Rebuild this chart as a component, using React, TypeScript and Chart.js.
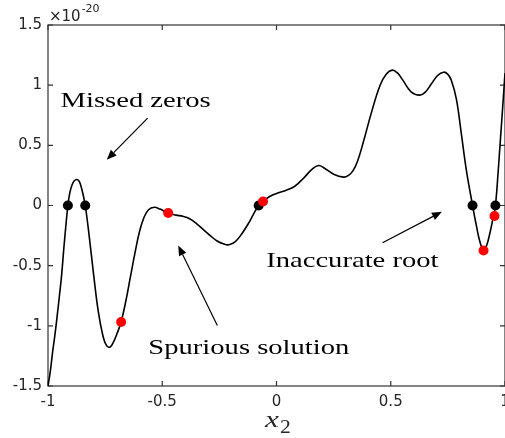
import React, { useEffect, useRef } from "react";
import { Chart, registerables } from "chart.js";

Chart.register(...registerables);

// ---- data (values in units of 1e-20) ----
const CURVE_X = [
  -1, -0.99, -0.98, -0.97, -0.96, -0.95, -0.94, -0.93, -0.913, -0.905, -0.895, -0.885, -0.874,
  -0.863, -0.85, -0.837, -0.82, -0.8, -0.78, -0.76, -0.745, -0.728, -0.71, -0.695, -0.68, -0.66,
  -0.64, -0.62, -0.6, -0.58, -0.56, -0.535, -0.51, -0.474, -0.44, -0.41, -0.38, -0.35, -0.32,
  -0.29, -0.26, -0.23, -0.208, -0.18, -0.15, -0.12, -0.1, -0.078, -0.059, -0.03, 0, 0.04, 0.08,
  0.12, 0.155, 0.184, 0.21, 0.25, 0.293, 0.315, 0.335, 0.355, 0.38, 0.416, 0.453, 0.48, 0.507,
  0.53, 0.55, 0.59, 0.627, 0.65, 0.678, 0.705, 0.731, 0.75, 0.765, 0.787, 0.808, 0.83, 0.858,
  0.875, 0.89, 0.906, 0.92, 0.935, 0.945, 0.958, 0.97, 0.98, 0.99, 1.0,
];
const CURVE_Y = [
  -1.5, -1.38, -1.22, -1.08, -0.92, -0.75, -0.57, -0.34, 0, 0.1, 0.17, 0.205, 0.216,
  0.2, 0.12, 0, -0.25, -0.58, -0.88, -1.08, -1.16, -1.176, -1.12, -1.05, -0.968, -0.8,
  -0.6, -0.4, -0.22, -0.1, -0.035, -0.015, -0.03, -0.063, -0.08, -0.09, -0.11, -0.15, -0.2,
  -0.25, -0.295, -0.32, -0.326, -0.3, -0.23, -0.14, -0.07, 0, 0.033, 0.075, 0.1, 0.125, 0.16,
  0.23, 0.3, 0.332, 0.31, 0.26, 0.236, 0.25, 0.29, 0.37, 0.527, 0.776, 0.997, 1.09, 1.125,
  1.1, 1.05, 0.942, 0.917, 0.94, 1.011, 1.08, 1.108, 1.09, 1.04, 0.886, 0.61, 0.305, 0,
  -0.17, -0.3, -0.37, -0.33, -0.22, -0.13, 0, 0.28, 0.55, 0.82, 1.1,
];
const TRUE_ROOTS_X = [-0.913, -0.837, -0.078, 0.858, 0.958];
const TRUE_ROOTS_Y = [0, 0, 0, 0, 0];
const COMPUTED_X = [-0.68, -0.474, -0.059, 0.906, 0.954];
const COMPUTED_Y = [-0.968, -0.063, 0.033, -0.374, -0.088];

const X_TICKS = [-1, -0.5, 0, 0.5, 1];
const Y_TICKS = [-1.5, -1, -0.5, 0, 0.5, 1, 1.5];

// annotations: text anchor and arrow (tail -> tip) in data coordinates
const NOTE_TEXT = ["Missed zeros", "Spurious solution", "Inaccurate root"];
const NOTE_TEXT_X = [-0.945, -0.561, -0.045];
const NOTE_TEXT_Y = [0.816, -1.232, -0.507];
const ARROW_TAIL_X = [-0.564, -0.259, 0.464];
const ARROW_TAIL_Y = [0.726, -0.997, -0.31];
const ARROW_TIP_X = [-0.743, -0.43, 0.724];
const ARROW_TIP_Y = [0.38, -0.332, -0.052];

const AXIS_COLOR = "#333333";
const TEXT_COLOR = "#262626";

const decorPlugin = {
  id: "decor",
  beforeDatasetsDraw(chart: any) {
    const { ctx, chartArea: a, scales } = chart;
    const xs = scales.x;
    const ys = scales.y;
    ctx.save();
    ctx.strokeStyle = AXIS_COLOR;
    ctx.lineWidth = 1.2;
    ctx.strokeRect(a.left, a.top, a.right - a.left, a.bottom - a.top);
    const tl = 5;
    ctx.beginPath();
    X_TICKS.forEach((v) => {
      const px = xs.getPixelForValue(v);
      ctx.moveTo(px, a.bottom);
      ctx.lineTo(px, a.bottom - tl);
      ctx.moveTo(px, a.top);
      ctx.lineTo(px, a.top + tl);
    });
    Y_TICKS.forEach((v) => {
      const py = ys.getPixelForValue(v);
      ctx.moveTo(a.left, py);
      ctx.lineTo(a.left + tl, py);
      ctx.moveTo(a.right, py);
      ctx.lineTo(a.right - tl, py);
    });
    ctx.stroke();

    // exponent label
    ctx.fillStyle = TEXT_COLOR;
    ctx.textBaseline = "alphabetic";
    ctx.textAlign = "left";
    ctx.font = "15px 'DejaVu Sans'";
    const base = "\u00d710";
    const ex = a.left + 1;
    ctx.fillText(base, ex, a.top - 4.5);
    const bw = ctx.measureText(base).width;
    ctx.font = "11px 'DejaVu Sans'";
    ctx.fillText("-20", ex + bw + 1, a.top - 13);

    // x-axis title x_2
    ctx.font = "italic 24px 'Liberation Serif'";
    ctx.save();
    ctx.translate(xs.getPixelForValue(-0.05), a.bottom + 40.5);
    ctx.scale(1.3, 1);
    ctx.fillText("x", 0, 0);
    ctx.restore();
    ctx.font = "18px 'Liberation Serif'";
    ctx.save();
    ctx.translate(xs.getPixelForValue(-0.05) + 15, a.bottom + 47);
    ctx.scale(1.2, 1);
    ctx.fillText("2", 0, 0);
    ctx.restore();
    ctx.restore();
  },
  afterDatasetsDraw(chart: any) {
    const { ctx, scales } = chart;
    const xs = scales.x;
    const ys = scales.y;
    ctx.save();
    ctx.fillStyle = "#000";
    ctx.strokeStyle = "#000";
    ctx.lineWidth = 1.2;
    for (let i = 0; i < NOTE_TEXT.length; i++) {
      const tx = xs.getPixelForValue(ARROW_TAIL_X[i]);
      const ty = ys.getPixelForValue(ARROW_TAIL_Y[i]);
      const hx = xs.getPixelForValue(ARROW_TIP_X[i]);
      const hy = ys.getPixelForValue(ARROW_TIP_Y[i]);
      const ang = Math.atan2(hy - ty, hx - tx);
      const hl = 10;
      const hw = 4;
      const bx = hx - hl * Math.cos(ang);
      const by = hy - hl * Math.sin(ang);
      ctx.beginPath();
      ctx.moveTo(tx, ty);
      ctx.lineTo(bx, by);
      ctx.stroke();
      ctx.beginPath();
      ctx.moveTo(hx, hy);
      ctx.lineTo(bx + hw * Math.sin(ang), by - hw * Math.cos(ang));
      ctx.lineTo(bx - hw * Math.sin(ang), by + hw * Math.cos(ang));
      ctx.closePath();
      ctx.fill();

      ctx.font = "22px 'Liberation Serif'";
      ctx.textAlign = "left";
      ctx.textBaseline = "alphabetic";
      ctx.save();
      ctx.translate(xs.getPixelForValue(NOTE_TEXT_X[i]), ys.getPixelForValue(NOTE_TEXT_Y[i]));
      ctx.scale(1.3, 1);
      ctx.fillText(NOTE_TEXT[i], 0, 0);
      ctx.restore();
    }
    ctx.restore();
  },
};

export default function App() {
  const ref = useRef<HTMLCanvasElement | null>(null);
  useEffect(() => {
    if (!ref.current) return;
    const chart = new Chart(ref.current, {
      type: "scatter",
      data: {
        datasets: [
          {
            label: "computed",
            data: COMPUTED_X.map((x, i) => ({ x, y: COMPUTED_Y[i] })),
            backgroundColor: "#ff0000",
            borderColor: "#ff0000",
            pointRadius: 5,
            pointBorderWidth: 0,
            showLine: false,
            order: 0,
          },
          {
            label: "roots",
            data: TRUE_ROOTS_X.map((x, i) => ({ x, y: TRUE_ROOTS_Y[i] })),
            backgroundColor: "#000000",
            borderColor: "#000000",
            pointRadius: 5,
            pointBorderWidth: 0,
            showLine: false,
            order: 1,
          },
          {
            label: "f",
            data: CURVE_X.map((x, i) => ({ x, y: CURVE_Y[i] })),
            borderColor: "#000000",
            backgroundColor: "#000000",
            borderWidth: 1.6,
            pointRadius: 0,
            showLine: true,
            tension: 0.4,
            order: 2,
          } as any,
        ],
      },
      options: {
        animation: false,
        responsive: false,
        devicePixelRatio: 1,
        layout: { padding: { top: 25, right: 15, left: 0, bottom: 0 } },
        plugins: { legend: { display: false }, tooltip: { enabled: false } },
        events: [],
        scales: {
          x: {
            type: "linear",
            min: -1,
            max: 1,
            afterBuildTicks: (s: any) => {
              s.ticks = X_TICKS.map((v) => ({ value: v }));
            },
            afterFit: (s: any) => {
              s.height = 52;
            },
            grid: { display: false, drawTicks: false },
            border: { display: false },
            ticks: {
              color: TEXT_COLOR,
              font: { family: "'DejaVu Sans'", size: 15 },
              padding: 7,
              maxRotation: 0,
              autoSkip: false,
              callback: (v: any) => String(v),
            },
          },
          y: {
            type: "linear",
            min: -1.5,
            max: 1.5,
            afterBuildTicks: (s: any) => {
              s.ticks = Y_TICKS.map((v) => ({ value: v }));
            },
            afterFit: (s: any) => {
              s.width = 48;
            },
            grid: { display: false, drawTicks: false },
            border: { display: false },
            ticks: {
              color: TEXT_COLOR,
              font: { family: "'DejaVu Sans'", size: 15 },
              padding: 6,
              autoSkip: false,
              callback: (v: any) => String(v),
            },
          },
        },
      },
      plugins: [decorPlugin],
    });
    return () => chart.destroy();
  }, []);
  return (
    <div
      style={{
        position: "fixed",
        left: 0,
        top: 0,
        width: 505,
        height: 438,
        overflow: "hidden",
        background: "#fff",
      }}
    >
      <canvas ref={ref} width={520} height={438} style={{ width: 520, height: 438, display: "block" }} />
    </div>
  );
}
